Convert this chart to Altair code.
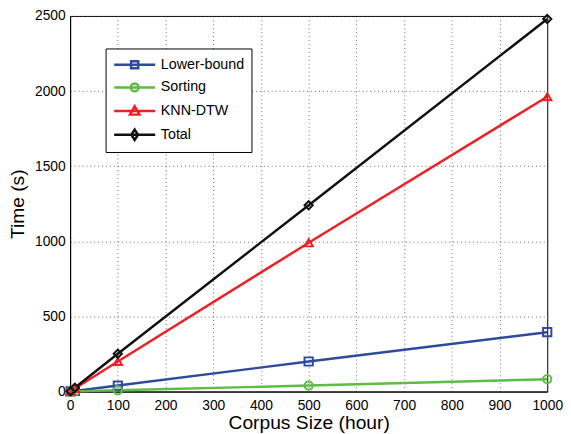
import altair as alt
import pandas as pd

corpus = [1, 10, 100, 500, 1000]
lower_bound = [0.4, 4, 40, 200, 395]
sorting = [0.1, 1, 8, 40, 82]
knn_dtw = [2, 20, 200, 990, 1962]
total = [2.5, 25, 252, 1240, 2480]

series = ["Lower-bound", "Sorting", "KNN-DTW", "Total"]
colors = ["#2E4A9E", "#5CBC44", "#EE2024", "#111111"]
shapes = ["square", "circle", "triangle-up", "diamond"]
legend_shapes = [
    "M-2.6,0H2.6M-0.45,-0.45H0.45V0.45H-0.45Z",
    "M-2.6,0H2.6M-0.5,0A0.5,0.5 0 1,0 0.5,0A0.5,0.5 0 1,0 -0.5,0Z",
    "M-2.6,0H2.6M0,-0.6L0.6,0.45H-0.6Z",
    "M-2.6,0H2.6M0,-0.65L0.42,0L0,0.65L-0.42,0Z",
]

rows = []
for name, vals in zip(series, [lower_bound, sorting, knn_dtw, total]):
    for c, v in zip(corpus, vals):
        rows.append({"corpus": c, "time": v, "series": name})
df = pd.DataFrame(rows)

FONT = "Liberation Sans"

x = alt.X("corpus:Q", scale=alt.Scale(domain=[0, 1000], nice=False),
          axis=alt.Axis(values=list(range(0, 1001, 100)), format="d", labelFlush=False,
                        title="Corpus Size (hour)"))
y = alt.Y("time:Q", scale=alt.Scale(domain=[0, 2500], nice=False),
          axis=alt.Axis(values=list(range(0, 2501, 500)), format="d", labelFlush=False,
                        title="Time (s)"))
color_nolegend = alt.Color("series:N", scale=alt.Scale(domain=series, range=colors), legend=None)

lines = alt.Chart(df).mark_line(strokeWidth=2.5).encode(x=x, y=y, color=color_nolegend, detail="series:N")
points = alt.Chart(df).mark_point(filled=False, strokeWidth=2, size=70, opacity=1).encode(
    x=x, y=y, color=color_nolegend,
    shape=alt.Shape("series:N", scale=alt.Scale(domain=series, range=shapes), legend=None),
)

leg = dict(
    title=None, orient="none", legendX=36, legendY=33,
    fillColor="white", strokeColor="black", padding=7,
    symbolSize=256, symbolStrokeWidth=2.5, symbolOpacity=1, symbolOffset=13,
    labelOffset=17, labelFontSize=14.5, labelFont=FONT, labelColor="black",
    rowPadding=4,
)
legend_layer = alt.Chart(df).mark_point(filled=False, opacity=0).encode(
    x=x, y=y,
    color=alt.Color("series:N", scale=alt.Scale(domain=series, range=colors), legend=alt.Legend(**leg)),
    shape=alt.Shape("series:N", scale=alt.Scale(domain=series, range=legend_shapes), legend=alt.Legend(**leg)),
)

chart = alt.layer(lines, points, legend_layer).resolve_scale(
    shape="independent", color="independent"
).properties(
    width=484, height=381,
    autosize=alt.AutoSizeParams(type="none"),
    padding={"left": 63, "top": 5, "right": 16, "bottom": 40},
).configure_view(stroke="black", strokeWidth=1).configure_axis(
    labelFont=FONT, titleFont=FONT, labelFontSize=14, titleFontSize=19.5,
    titleFontWeight="normal", labelColor="black", titleColor="black",
    domainColor="black", domainWidth=1, ticks=False,
    gridColor="#444", gridDash=[1, 3], gridWidth=1, gridOpacity=0.8,
).configure_axisX(labelPadding=7, titlePadding=2).configure_axisY(labelPadding=5, titlePadding=7)

chart.save("out.html", embed_options={"renderer": "svg", "actions": False})
